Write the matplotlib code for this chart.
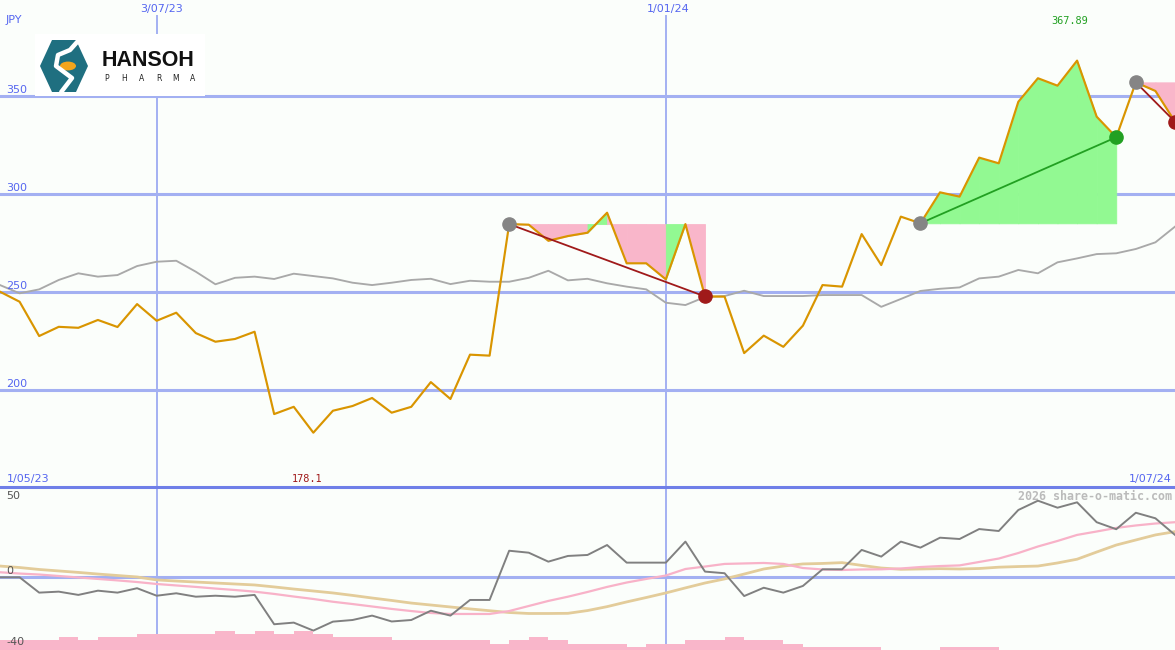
import numpy as np
import pandas as pd
import matplotlib
matplotlib.use("Agg")
import matplotlib.pyplot as plt
from matplotlib.patches import Polygon, Circle, Rectangle
from matplotlib.lines import Line2D

# weekly closes, Hansoh Pharma (JPY)
dates = pd.date_range("2023-05-08", periods=61, freq="7D")

price = [250.0, 244.9, 227.4, 232.1, 231.6, 235.6, 232.0, 243.7, 235.2, 239.3,
         228.9, 224.5, 225.9, 229.6, 187.6, 191.3, 178.1, 189.3, 191.7, 195.8,
         188.3, 191.3, 203.9, 195.3, 217.9, 217.4, 284.5, 284.2, 276.0, 278.4,
         280.1, 290.3, 264.5, 264.5, 256.3, 284.5, 247.6, 247.5, 218.7, 227.6,
         221.9, 232.7, 253.4, 252.6, 279.4, 263.6, 288.3, 284.9, 300.7, 298.5,
         318.4, 315.5, 346.9, 358.9, 355.1, 367.89, 339.3, 328.8, 356.8, 352.4,
         336.7]

index_line = [253.4, 249.2, 251.2, 256.0, 259.4, 257.7, 258.5, 263.1, 265.3, 265.8,
              260.2, 253.8, 257.1, 257.7, 256.5, 259.2, 258.0, 256.8, 254.6, 253.4,
              254.6, 256.0, 256.6, 253.9, 255.6, 255.1, 255.1, 257.1, 260.7, 255.8,
              256.6, 254.3, 252.6, 251.2, 244.4, 243.2, 247.3, 247.8, 250.5, 247.8,
              247.8, 247.8, 248.3, 248.3, 248.3, 242.3, 246.3, 250.4, 251.5, 252.2,
              256.8, 257.7, 261.1, 259.4, 265.0, 267.0, 269.2, 269.6, 271.8, 275.2,
              283.2]

momentum = [-0.2, -0.2, -9.6, -9.0, -11.0, -8.4, -9.6, -6.9, -11.5, -10.0,
            -12.1, -11.5, -12.1, -11.0, -29.0, -28.0, -32.9, -27.4, -26.4, -23.7,
            -27.3, -26.4, -20.7, -23.7, -14.1, -14.1, 16.1, 14.9, 9.4, 12.9,
            13.5, 19.6, 8.8, 8.8, 8.8, 21.7, 3.3, 2.3, -11.7, -6.6,
            -9.6, -5.5, 4.7, 4.7, 16.6, 12.5, 21.7, 18.0, 24.1, 23.3,
            29.4, 28.2, 41.1, 46.8, 42.5, 45.8, 33.6, 29.3, 39.4, 36.0,
            25.8]

ma_fast = [2.9, 2.1, 1.5, 0.6, -0.3, -1.2, -2.1, -3.1, -4.3, -5.2,
           -6.1, -7.1, -8.0, -9.0, -10.4, -12.0, -13.5, -15.2, -16.6, -18.1,
           -19.6, -20.9, -22.1, -22.7, -22.7, -22.7, -20.9, -17.8, -14.7, -12.1,
           -9.2, -6.1, -3.4, -1.2, 0.9, 4.9, 6.4, 8.0, 8.3, 8.6,
           8.0, 5.5, 4.6, 4.3, 4.6, 4.7, 5.2, 6.1, 6.7, 7.1,
           9.2, 11.3, 14.7, 18.7, 22.1, 25.8, 27.9, 30.1, 31.6, 32.8,
           33.6]

ma_slow = [6.7, 5.8, 4.6, 3.7, 2.8, 1.8, 0.9, 0.0, -1.8, -2.5,
           -3.1, -3.7, -4.3, -4.9, -6.1, -7.4, -8.6, -9.8, -11.3, -12.9,
           -14.4, -16.0, -17.2, -18.4, -19.6, -20.7, -21.8, -22.4, -22.4, -22.3,
           -20.6, -18.2, -15.3, -12.6, -9.8, -6.7, -3.7, -1.2, 1.8, 4.9,
           6.7, 8.0, 8.3, 8.8, 7.1, 5.5, 4.7, 4.9, 5.1, 4.9,
           5.2, 6.0, 6.4, 6.7, 8.6, 10.9, 15.3, 19.6, 22.7, 25.8,
           27.8]

volume = [3, 3, 3, 4, 3, 4, 4, 5, 5, 5,
          5, 6, 5, 6, 5, 6, 5, 4, 4, 4,
          3, 3, 3, 3, 3, 2, 3, 4, 3, 2,
          2, 2, 1, 2, 2, 3, 3, 4, 3, 3,
          2, 1, 1, 1, 1, 0, 0, 0, 1, 1,
          1, 0, 0, 0, 0, 0, 0, 0, 0, 0,
          0]

trends = [(26, 36), (47, 57), (58, 60)]
vlines = ["2023-07-03", "2024-01-01"]
price_ticks = [200, 250, 300, 350]

W, H = 1175, 650
BG = "#fbfefb"
GRID = "#a3b0f2"
BLUE = "#5566f0"
PINK = "#f9b6ca"
GREEN = "#92f992"
DRED = "#a01a1a"
DGREEN = "#22a022"


def fx(x):
    return x / W


def fy(y):
    return 1 - y / H


fig = plt.figure(figsize=(W / 100, H / 100), dpi=100, facecolor=BG)

# ---- price panel
ax = fig.add_axes([0, 163 / H, 1, 487 / H])
ax.set_facecolor("none")
ax.set_axis_off()
ax.set_xlim(dates[0], dates[-1])
ax.set_ylim(150.4, 398.8)

for v in price_ticks:
    ax.axhline(v, color=GRID, lw=2.2, zorder=1)
for d in vlines:
    ax.axvline(pd.Timestamp(d), ymax=(487 - 16) / 487, color=GRID, lw=1.4, zorder=1)

# shaded trend areas
for s, e in trends:
    level = price[s]
    for j in range(s, e):
        col = GREEN if price[j + 1] >= level else PINK
        ax.fill_between(dates[j:j + 2], level, price[j:j + 2], facecolor=col,
                        edgecolor=col, lw=0.6, zorder=2)

ax.plot(dates, index_line, color="#a9a9a9", lw=1.35, zorder=3)
ax.plot(dates, price, color="#d99500", lw=1.55, zorder=4)

for s, e in trends:
    up = price[e] > price[s]
    ax.plot([dates[s], dates[e]], [price[s], price[e]], color=DGREEN if up else DRED, lw=1.3, zorder=5)
    ax.plot(dates[s], price[s], "o", ms=9.5, color="#858585", zorder=6)
    ax.plot(dates[e], price[e], "o", ms=9.5, color=DGREEN if up else DRED, zorder=6)

# ---- indicator panel
ax2 = fig.add_axes([0, 0, 1, 163 / H])
ax2.set_facecolor("none")
ax2.set_axis_off()
ax2.set_xlim(dates[0], dates[-1])
ax2.set_ylim(-44.8, 55.2)
ax2.axhline(0, color=GRID, lw=2.2, zorder=1)
for d in vlines:
    ax2.axvline(pd.Timestamp(d), color=GRID, lw=1.4, zorder=1)
ax2.plot(dates, ma_slow, color="#e3cc9a", lw=2.0, zorder=3)
ax2.plot(dates, ma_fast, color="#f8b2c8", lw=1.6, zorder=4)
ax2.plot(dates, momentum, color="#808080", lw=1.4, zorder=5)

ax3 = fig.add_axes([0, 0, 1, 163 / H], sharex=ax2)
ax3.set_facecolor("none")
ax3.set_axis_off()
ax3.set_ylim(0, 163 / 3.2)
ax3.bar(dates, volume, width=7, align="edge", color=PINK, lw=0)

fig.add_artist(Line2D([0, 1], [fy(487), fy(487)], transform=fig.transFigure,
                      color="#6f7fe8", lw=2.2))

# ---- logo
fig.add_artist(Rectangle((fx(35), fy(95.5)), fx(170), 61.5 / H, transform=fig.transFigure,
                         facecolor="white", edgecolor="none"))
hexa = [(40, 66), (52, 40), (76, 40), (88, 66), (76, 92), (52, 92)]
fig.add_artist(Polygon([(fx(x), fy(y)) for x, y in hexa], closed=True, transform=fig.transFigure,
                       facecolor="#1f6f80", edgecolor="none"))
s_path = [(78, 41), (70, 50), (58, 55), (56, 66), (72, 78), (62, 91)]
fig.add_artist(Line2D([fx(x) for x, _ in s_path], [fy(y) for _, y in s_path],
                      transform=fig.transFigure, color="white", lw=3.2))
fig.add_artist(Circle((fx(68), fy(66)), 8 / W, transform=fig.transFigure,
                      facecolor="#f4a51c", edgecolor="none"))
fig.text(fx(102), fy(61), "HANSOH", fontsize=15.5, fontweight="bold",
         family="Liberation Sans", color="#111111", va="center", ha="left")
for k, ch in enumerate("PHARMA"):
    fig.text(fx(107 + k * 17.2), fy(78.5), ch, fontsize=5.5, family="DejaVu Sans",
             color="#222222", va="center", ha="center")

# ---- labels
fig.text(fx(6), fy(20), "JPY", color=BLUE, fontsize=8, va="center")
for v in price_ticks:
    ypix = 95.7 + (350 - v) * 1.96
    fig.text(fx(6), fy(ypix - 6), str(v), color=BLUE, fontsize=8, va="center")
fig.text(fx(161.5), fy(9), "3/07/23", color=BLUE, fontsize=8, ha="center", va="center")
fig.text(fx(668), fy(9), "1/01/24", color=BLUE, fontsize=8, ha="center", va="center")
fig.text(fx(7), fy(479), "1/05/23", color=BLUE, fontsize=8, va="center")
fig.text(fx(1172), fy(479), "1/07/24", color=BLUE, fontsize=8, ha="right", va="center")
fig.text(fx(307.5), fy(479), "178.1", color=DRED, fontsize=7.4, family="DejaVu Sans Mono",
         ha="center", va="center")
fig.text(fx(1069.5), fy(21), "367.89", color=DGREEN, fontsize=7.4, family="DejaVu Sans Mono",
         ha="center", va="center")
fig.text(fx(1172), fy(496), "2026 share-o-matic.com", color="#bbbbbb", fontsize=8.4,
         family="DejaVu Sans Mono", fontweight="bold", ha="right", va="center")
fig.text(fx(6), fy(496), "50", color="#555555", fontsize=8, va="center")
fig.text(fx(6), fy(571), "0", color="#555555", fontsize=8, va="center")
fig.text(fx(6), fy(642), "-40", color="#555555", fontsize=8, va="center")

fig.savefig("out.png", dpi=100, facecolor=BG)
